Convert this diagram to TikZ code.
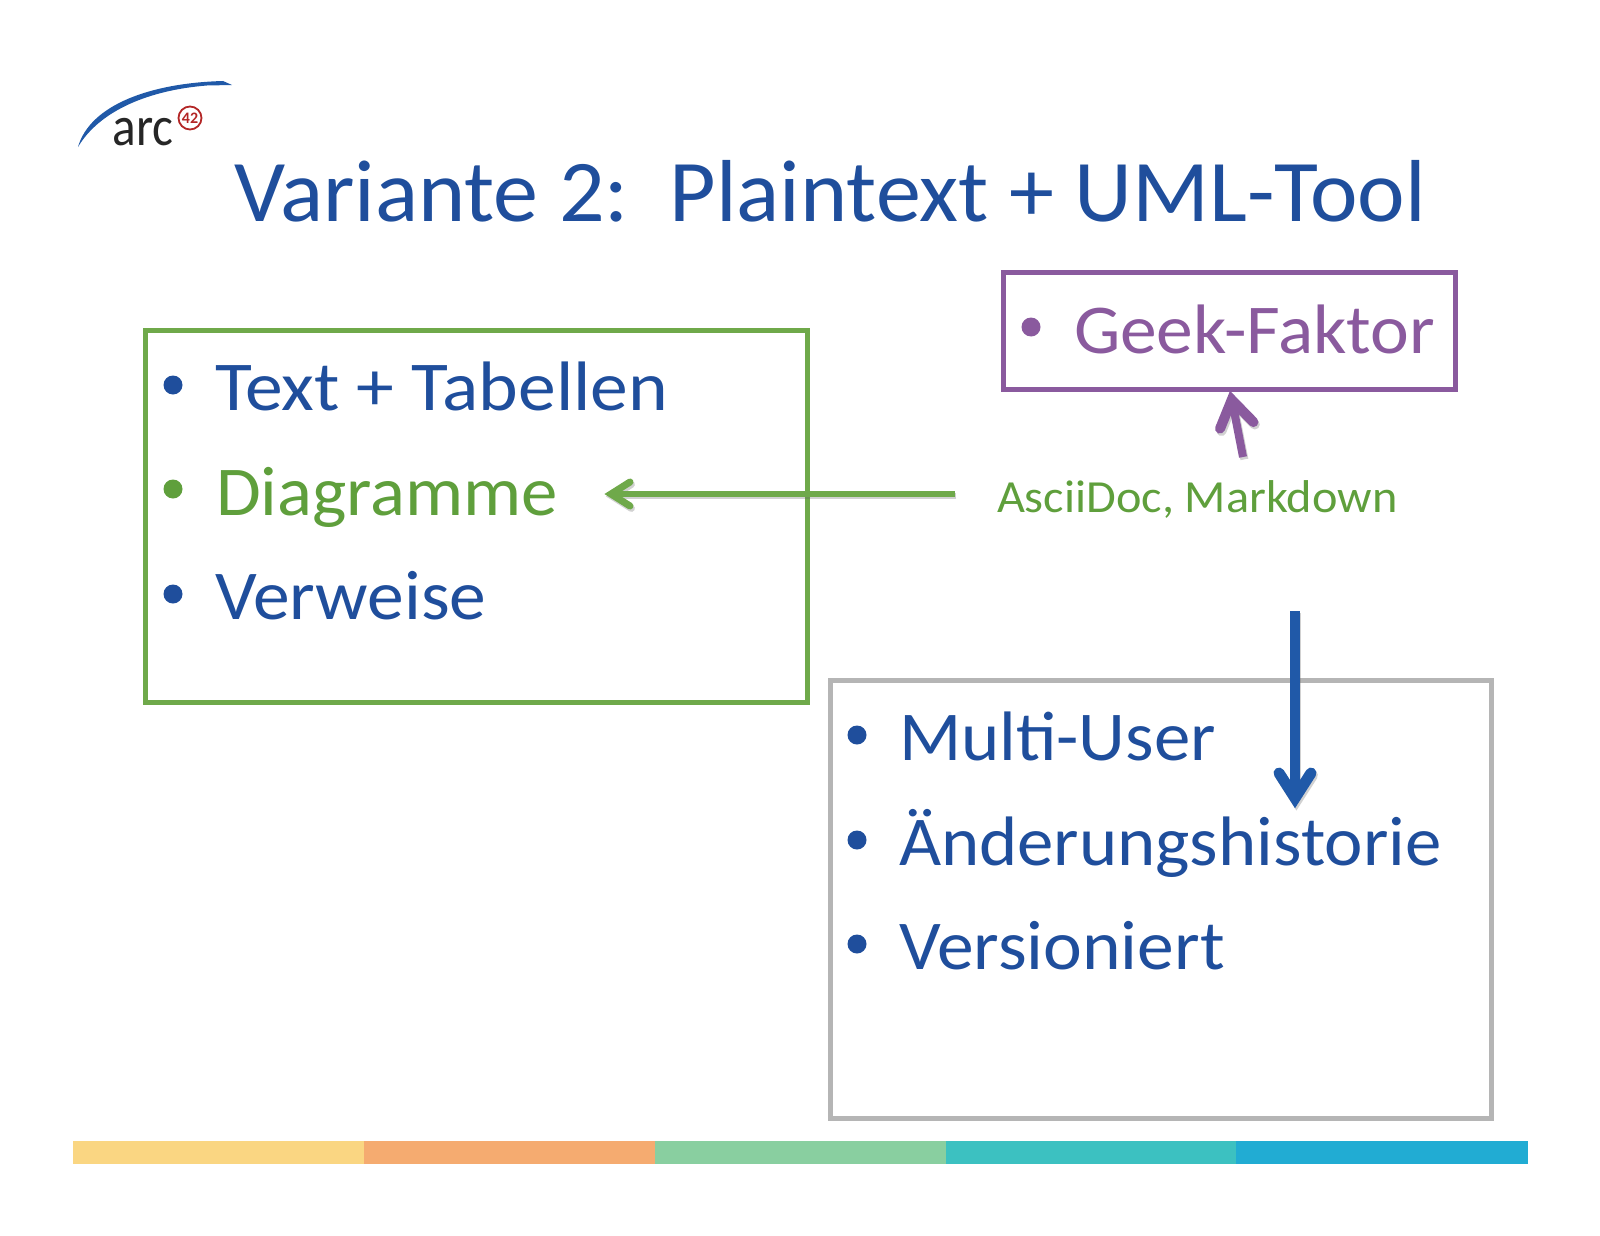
\documentclass[tikz,border=0pt]{standalone}
\usepackage{fontspec}
\setmainfont{Carlito}
\newfontfamily\bodyface[FakeStretch=1.05]{Carlito}
\newfontfamily\wideface[FakeStretch=1.08]{Carlito}
\newfontfamily\tightface[FakeStretch=1.04]{Carlito}
\newfontfamily\titleface[FakeStretch=1.023]{Carlito}
\newfontfamily\labelface[FakeStretch=1.05]{Carlito}
\newfontfamily\logoface[FakeStretch=0.88]{Carlito}
\usetikzlibrary{arrows.meta}
\definecolor{tblue}{HTML}{1F4E9C}
\definecolor{tgreen}{HTML}{5F9F3C}
\definecolor{bgreen}{HTML}{6FA94A}
\definecolor{tpurple}{HTML}{8A5A9E}
\definecolor{tgray}{HTML}{B5B5B5}
\definecolor{arrblue}{HTML}{2059A8}
\tikzset{
  txt/.style={anchor=base west,inner sep=0pt,outer sep=0pt,font=\bodyface\fontsize{35}{35}\selectfont},
  tighttxt/.style={txt,font=\tightface\fontsize{35}{35}\selectfont},
  widetxt/.style={txt,font=\wideface\fontsize{35}{35}\selectfont},
  bul/.style={anchor=center,inner sep=0pt,outer sep=0pt,circle,minimum size=9.5pt},
  framebox/.style={line width=2.5pt,miter limit=4},
  shadowed/.style={opacity=.3,draw=black!60,transform canvas={shift={(0.7pt,-1.2pt)}}},
  chevron/.style={line cap=round,line join=miter,miter limit=20},
  greenhead/.style={chevron,line width=3.5pt,shift={(gb)}},
  purplehead/.style={chevron,line width=5pt,shift={(pb)},rotate=-78.9},
  bluehead/.style={chevron,line width=5.5pt,shift={(bb)},rotate=90},
}
\begin{document}
\begin{tikzpicture}[x=0.5pt,y=-0.5pt]
\useasboundingbox (0,0) rectangle (1600,1236);
% logo
\fill[arrblue] (78,147) .. controls (90,105) and (150,83) .. (223,81) -- (232,85) -- (207,85.5) .. controls (150,90) and (100,110) .. (78,147) -- cycle;
\node[anchor=base west,inner sep=0pt,text=black!85,font=\logoface\fontsize{28}{28}\selectfont] (arc) at (112,146) {arc};
\node[circle,draw=red!65!black!85,line width=0.9pt,inner sep=0pt,minimum size=11.5pt,text=red!65!black!85,font=\bfseries\fontsize{8}{8}\selectfont] (ft) at (190,118) {42};
% title
\node[txt,text=tblue,font=\titleface\fontsize{44}{44}\selectfont] (title) at (234,221) {Variante 2:\ \ Plaintext + UML-Tool};
% boxes
\draw[framebox,draw=bgreen] (145,330) rectangle (807,702);
\draw[framebox,draw=tpurple] (1003,272) rectangle (1455,389);
\draw[framebox,draw=tgray] (830,680) rectangle (1491,1118);
% green list
\node[bul,fill=tblue] (b1) at (173,385) {};
\node[widetxt,text=tblue] (t1) at (215,410) {Text + Tabellen};
\node[bul,fill=tgreen] (b2) at (173,489) {};
\node[tighttxt,text=tgreen] (t2) at (216,515) {Diagramme};
\node[bul,fill=tblue] (b3) at (173,594) {};
\node[txt,text=tblue] (t3) at (215,619) {Verweise};
% purple
\node[bul,fill=tpurple] (b4) at (1031,327) {};
\node[txt,text=tpurple] (t4) at (1074,353) {Geek-Faktor};
% gray list
\node[bul,fill=tblue] (b5) at (857,735) {};
\node[tighttxt,text=tblue] (t5) at (899,760) {Multi-User};
\node[bul,fill=tblue] (b6) at (857,840) {};
\node[tighttxt,text=tblue] (t6) at (899,865) {Änderungshistorie};
\node[bul,fill=tblue] (b7) at (857,944) {};
\node[txt,text=tblue] (t7) at (899,969) {Versioniert};
% label
\node[txt,text=tgreen,font=\labelface\fontsize{23}{23}\selectfont] (lab) at (997,512) {AsciiDoc, Markdown};
% connectors
\coordinate (ga) at (955,494); \coordinate (gb) at (604,494); \coordinate (gh) at (616,494);
\coordinate (pa) at (1243,457); \coordinate (pb) at (1230,391); \coordinate (ph) at (1232.5,403);
\coordinate (ba) at (1295,611); \coordinate (bb) at (1295,809); \coordinate (bh) at (1295,795);
% shadows
\draw[shadowed,line width=3pt] (ga) -- (gh);
\draw[shadowed,greenhead] (26,12) -- (7,0) -- (26,-12);
\draw[shadowed,line width=4pt] (pa) -- (ph);
\draw[shadowed,purplehead] (35,17) -- (9,0) -- (35,-17);
\draw[shadowed,line width=5pt] (ba) -- (bh);
\draw[shadowed,bluehead] (36,16) -- (11,0) -- (36,-16);
% arrows
\draw[draw=bgreen,line width=3pt] (ga) -- (gh);
\draw[draw=bgreen,greenhead] (26,12) -- (7,0) -- (26,-12);
\draw[draw=tpurple,line width=4pt] (pa) -- (ph);
\draw[draw=tpurple,purplehead] (35,17) -- (9,0) -- (35,-17);
\draw[draw=arrblue,line width=5pt] (ba) -- (bh);
\draw[draw=arrblue,bluehead] (36,16) -- (11,0) -- (36,-16);
% stripes
\fill[fill={rgb,255:red,250;green,214;blue,130}] (72.5,1141) rectangle (364,1164);
\fill[fill={rgb,255:red,245;green,171;blue,112}] (364,1141) rectangle (655,1164);
\fill[fill={rgb,255:red,137;green,207;blue,160}] (655,1141) rectangle (946,1164);
\fill[fill={rgb,255:red,60;green,193;blue,193}] (946,1141) rectangle (1236,1164);
\fill[fill={rgb,255:red,33;green,172;blue,211}] (1236,1141) rectangle (1528,1164);
\end{tikzpicture}
\end{document}
